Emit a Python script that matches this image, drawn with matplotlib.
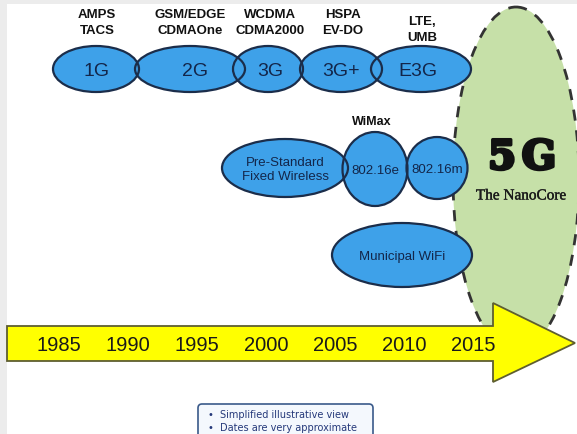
import matplotlib
matplotlib.use("Agg")
import matplotlib.pyplot as plt
import matplotlib.patheffects as pe
from matplotlib.patches import Ellipse, Polygon, FancyBboxPatch, Rectangle

# ---- data ----
gen_names = ["1G", "2G", "3G", "3G+", "E3G"]
gen_techs = ["AMPS\nTACS", "GSM/EDGE\nCDMAOne", "WCDMA\nCDMA2000", "HSPA\nEV-DO", "LTE,\nUMB"]
wimax_names = ["Pre-Standard\nFixed Wireless", "802.16e", "802.16m"]
wifi_names = ["Municipal WiFi"]
years = [1985, 1990, 1995, 2000, 2005, 2010, 2015]
notes = ["Simplified illustrative view", "Dates are very approximate"]

# ---- layout (pixel coordinates) ----
gen_cx = [96, 190, 268, 341, 421]
gen_w = [86, 110, 70, 82, 100]
gen_cy, gen_h = 70, 46
gen_lx = [97, 195, 270, 341, 418]
gen_tx = [97, 190, 270, 343, 422]
wimax_cx = [285, 375, 437]
wimax_cy = [169, 170, 169]
wimax_w = [126, 65, 61]
wimax_h = [58, 74, 62]

W, H = 577, 435
fig = plt.figure(figsize=(W / 100, H / 100), dpi=100)
ax = fig.add_axes([0, 0, 1, 1])
ax.set_xlim(0, W)
ax.set_ylim(H, 0)
ax.axis("off")
fig.patch.set_facecolor("#ececec")
ax.add_patch(Rectangle((7, 5), W, H, facecolor="white", edgecolor="none", zorder=0))

blue = "#3ea1e9"
edge = "#1b2d4a"
tcol = "#13264a"
font = "Liberation Sans"

# green 5G ellipse
ax.add_patch(Ellipse((516, 180), 126, 344, facecolor="#c6e0a8", edgecolor="none", zorder=1))
ax.add_patch(Ellipse((516, 180), 126, 344, facecolor="none", edgecolor="#333333",
                     lw=2.0, linestyle=(0, (4, 3.5)), zorder=2))

# generation ellipses
for cx, w in zip(gen_cx, gen_w):
    ax.add_patch(Ellipse((cx, gen_cy), w, gen_h, facecolor=blue, edgecolor="none", zorder=3))
for cx, w in zip(gen_cx, gen_w):
    ax.add_patch(Ellipse((cx, gen_cy), w, gen_h, facecolor="none", edgecolor=edge, lw=1.6, zorder=4))
for name, tech, lx, tx in zip(gen_names, gen_techs, gen_lx, gen_tx):
    ax.text(lx, gen_cy + 1, name, ha="center", va="center",
            fontsize=14, color=tcol, family=font, zorder=5)
    l1, l2 = tech.split("\n")
    y1 = 22 if name == "E3G" else 15
    ax.text(tx, y1, l1, ha="center", va="center", fontsize=9.5, fontweight="bold",
            color="#111111", family=font)
    ax.text(tx, y1 + 16, l2, ha="center", va="center", fontsize=9.5, fontweight="bold",
            color="#111111", family=font)

# WiMax ellipses
for cx, cy, w, h in zip(wimax_cx, wimax_cy, wimax_w, wimax_h):
    ax.add_patch(Ellipse((cx, cy), w, h, facecolor=blue, edgecolor="none", zorder=3))
for cx, cy, w, h in zip(wimax_cx, wimax_cy, wimax_w, wimax_h):
    ax.add_patch(Ellipse((cx, cy), w, h, facecolor="none", edgecolor=edge, lw=1.6, zorder=4))
for name, cx, cy in zip(wimax_names, wimax_cx, wimax_cy):
    ax.text(cx, cy + 1, name, ha="center", va="center", fontsize=9.5, color=tcol,
            family=font, zorder=5, linespacing=1.3)
ax.text(372, 122, "WiMax", ha="center", va="center", fontsize=9, fontweight="bold",
        color="#111111", family=font)

# Municipal WiFi
ax.add_patch(Ellipse((402, 256), 140, 64, facecolor=blue, edgecolor=edge, lw=1.6, zorder=3))
ax.text(402, 257, wifi_names[0], ha="center", va="center", fontsize=9.5, color=tcol,
        family=font, zorder=5)

# 5G label
heavy = [pe.withStroke(linewidth=2.4, foreground="#111111")]
ax.text(502, 159, "5", ha="center", va="center", fontsize=29, fontweight="bold",
        color="#111111", family="DejaVu Serif", zorder=5, path_effects=heavy)
ax.text(539, 159, "G", ha="center", va="center", fontsize=29, fontweight="bold",
        color="#111111", family="DejaVu Serif", zorder=5, path_effects=heavy)
ax.text(521, 197, "The NanoCore", ha="center", va="center", fontsize=11,
        color="#1a1a1a", family="Liberation Serif", zorder=5,
        path_effects=[pe.withStroke(linewidth=0.25, foreground="#1a1a1a")])

# yellow arrow
arrow = Polygon([(7, 327), (493, 327), (493, 304), (575, 344), (493, 383), (493, 362), (7, 362)],
                closed=True, facecolor="#ffff00", edgecolor="#5e5e30", lw=1.3, zorder=6)
ax.add_patch(arrow)
x0, px_per_year = 59, (473 - 59) / 30
for yr in years:
    ax.text(x0 + (yr - years[0]) * px_per_year, 345.5, str(yr), ha="center", va="center",
            fontsize=14.5, color="#1a1a1a", family=font, zorder=7)

# note box
ax.add_patch(FancyBboxPatch((198, 405), 175, 36, boxstyle="round,pad=0,rounding_size=4",
                            facecolor="#f4f8fd", edgecolor="#3a5a8a", lw=1.2, zorder=6))
for i, n in enumerate(notes):
    ax.text(210, 415 + i * 13, "•", ha="center", va="center", fontsize=7,
            color="#25397a", family="DejaVu Sans", zorder=7)
    ax.text(220, 415 + i * 13, n, ha="left", va="center", fontsize=7,
            color="#25397a", family="DejaVu Sans", zorder=7)

fig.savefig("out.png", dpi=100)
